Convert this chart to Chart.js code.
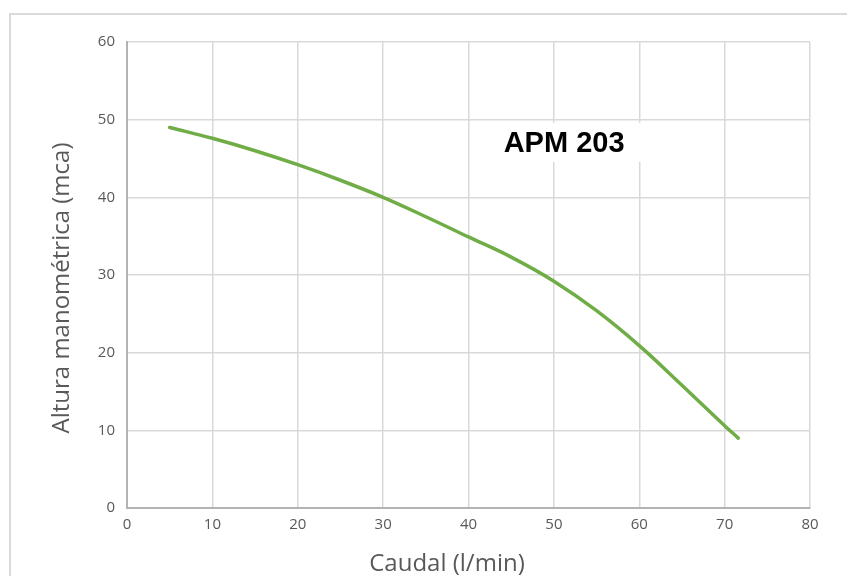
<!DOCTYPE html>
<html>
<head>
<meta charset="utf-8">
<script src="https://cdn.jsdelivr.net/npm/chart.js@4"></script>
<style>
  html, body { margin: 0; padding: 0; background: #fff; }
  #wrap { width: 847px; height: 576px; position: relative; }
</style>
</head>
<body>
<div id="wrap"><canvas id="curveChart"></canvas></div>
<script>
// caudal (l/min) and altura (mca)
const caudal = [5, 10, 15, 20, 25, 30, 35, 40, 45, 50, 55, 60, 65, 70, 71.6];
const altura = [49, 47.6, 46, 44.2, 42.2, 40, 37.5, 34.9, 32.3, 29.2, 25.4, 20.9, 15.8, 10.6, 9];
const xTicks = [0, 10, 20, 30, 40, 50, 60, 70, 80];
const yTicks = [0, 10, 20, 30, 40, 50, 60];
const modelName = 'APM 203';
const xTitle = 'Caudal (l/min)';
const yTitle = 'Altura manométrica (mca)';

const grey = '#595959';

// frame round the whole chart, axis titles and the model label
const decorations = {
    id: 'decorations',
    beforeDraw(chart) {
        const ctx = chart.ctx;
        ctx.save();
        ctx.strokeStyle = '#d9d9d9';
        ctx.lineWidth = 2;
        ctx.strokeRect(10, 14, 900, 620);
        ctx.restore();
    },
    afterDraw(chart) {
        const ctx = chart.ctx;
        const xs = chart.scales.x, ys = chart.scales.y;
        ctx.save();
        ctx.fillStyle = grey;
        ctx.font = '24px "Open Sans"';
        ctx.textAlign = 'center';
        ctx.textBaseline = 'alphabetic';
        ctx.fillText(xTitle, 447, 571);

        ctx.translate(69, 288);
        ctx.rotate(-Math.PI / 2);
        ctx.fillText(yTitle, 0, 0);
        ctx.restore();

        // model label, white box hides the grid behind it
        const cx = xs.getPixelForValue(51.2);
        const cy = ys.getPixelForValue(47);
        ctx.save();
        ctx.fillStyle = '#fff';
        ctx.fillRect(cx - 82, cy - 20, 170, 39);
        ctx.fillStyle = '#000';
        ctx.font = 'bold 29px "Liberation Sans"';
        ctx.textAlign = 'center';
        ctx.textBaseline = 'middle';
        ctx.fillText(modelName, cx, cy + 1);
        ctx.restore();
    }
};

document.addEventListener('DOMContentLoaded', function() {
    const ctx = document.getElementById('curveChart').getContext('2d');
    new Chart(ctx, {
        type: 'scatter',
        data: {
            datasets: [{
                data: caudal.map((x, i) => ({ x: x, y: altura[i] })),
                showLine: true,
                borderColor: '#70AD47',
                borderWidth: 3.5,
                pointRadius: 0,
                tension: 0.4,
                borderCapStyle: 'round'
            }]
        },
        options: {
            responsive: true,
            maintainAspectRatio: false,
            animation: false,
            layout: { padding: { top: 42, right: 37, left: 0, bottom: 0 } },
            plugins: {
                legend: { display: false },
                tooltip: { enabled: false }
            },
            scales: {
                x: {
                    type: 'linear',
                    min: 0,
                    max: 80,
                    afterFit: s => { s.height = 68; },
                    afterBuildTicks: s => { s.ticks = xTicks.map(v => ({ value: v })); },
                    grid: { color: '#d9d9d9', lineWidth: 1.5, drawTicks: false },
                    border: { color: '#b3b3b3', width: 2 },
                    ticks: {
                        color: grey,
                        padding: 8,
                        font: { family: "'Open Sans', sans-serif", size: 15 }
                    }
                },
                y: {
                    type: 'linear',
                    min: 0,
                    max: 60,
                    afterFit: s => { s.width = 127; },
                    afterBuildTicks: s => { s.ticks = yTicks.map(v => ({ value: v })); },
                    grid: { color: '#d9d9d9', lineWidth: 1.5, drawTicks: false },
                    border: { color: '#b3b3b3', width: 2 },
                    ticks: {
                        color: grey,
                        padding: 12,
                        font: { family: "'Open Sans', sans-serif", size: 15 }
                    }
                }
            }
        },
        plugins: [decorations]
    });
});
</script>
</body>
</html>
